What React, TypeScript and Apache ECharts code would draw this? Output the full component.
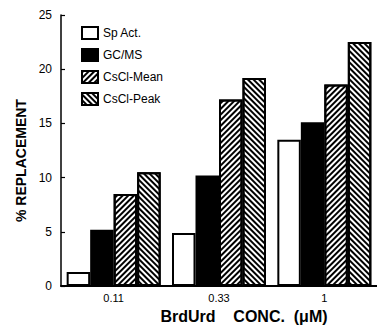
import React, { useEffect, useRef } from "react";
import * as echarts from "echarts";

const categories = ["0.11", "0.33", "1"];
const spAct = [1.3, 4.9, 13.5];
const gcms = [5.2, 10.2, 15.1];
const csclMean = [8.5, 17.2, 18.6];
const csclPeak = [10.5, 19.2, 22.5];
const seriesNames = ["Sp Act.", "GC/MS", "CsCl-Mean", "CsCl-Peak"];

const FONT = "Liberation Sans";

export default function App() {
  const ref = useRef<HTMLDivElement>(null);
  useEffect(() => {
    if (!ref.current) return;
    const chart = echarts.init(ref.current, null, { renderer: "svg" });
    const border = { borderColor: "#000", borderWidth: 2 };
    const hatch = (rot: number) => ({
      symbol: "rect",
      symbolSize: 1,
      color: "#000",
      dashArrayX: [1, 0],
      dashArrayY: [1.8, 1.5],
      rotation: rot,
    });
    chart.setOption({
      animation: false,
      backgroundColor: "#fff",
      textStyle: { fontFamily: FONT, color: "#000" },
      grid: { left: 61, right: -5, top: 15, bottom: 42, containLabel: false },
      legend: {
        orient: "vertical",
        left: 76,
        top: 21,
        itemWidth: 16,
        itemHeight: 12,
        itemGap: 8,
        icon: "rect",
        textStyle: { fontFamily: FONT, fontSize: 12, color: "#000" },
        data: seriesNames,
      },
      xAxis: {
        type: "category",
        data: categories,
        axisLine: { lineStyle: { color: "#000", width: 2 } },
        axisTick: { show: false },
        axisLabel: { color: "#000", fontSize: 11, margin: 6, fontFamily: FONT },
        name: "BrdUrd    CONC.  (\u03bcM)",
        nameLocation: "middle",
        nameGap: 21,
        nameTextStyle: {
          fontFamily: FONT,
          fontSize: 16,
          fontWeight: "bold",
          color: "#000",
          padding: [0, 0, 0, 50],
        },
      },
      yAxis: {
        type: "value",
        min: 0,
        max: 25,
        interval: 5,
        splitLine: { show: false },
        axisLine: { show: true, lineStyle: { color: "#000", width: 1.5 } },
        axisTick: { show: true, inside: true, length: 4, lineStyle: { color: "#000", width: 1.2 } },
        axisLabel: { color: "#000", fontSize: 12, margin: 9, fontFamily: FONT },
        name: "% REPLACEMENT",
        nameLocation: "middle",
        nameRotate: 90,
        nameGap: 31,
        nameTextStyle: {
          fontFamily: FONT,
          fontSize: 14,
          fontWeight: "bold",
          color: "#000",
          padding: [0, 20, 0, 0],
        },
      },
      series: [
        {
          name: seriesNames[0],
          type: "bar",
          data: spAct,
          barWidth: 23.5,
          barGap: "0%",
          itemStyle: { color: "#fff", ...border },
        },
        {
          name: seriesNames[1],
          type: "bar",
          data: gcms,
          barWidth: 23.5,
          barGap: "0%",
          itemStyle: { color: "#000", ...border },
        },
        {
          name: seriesNames[2],
          type: "bar",
          data: csclMean,
          barWidth: 23.5,
          barGap: "0%",
          itemStyle: { color: "#fff", ...border, decal: hatch(-Math.PI / 4) },
        },
        {
          name: seriesNames[3],
          type: "bar",
          data: csclPeak,
          barWidth: 23.5,
          barGap: "0%",
          itemStyle: { color: "#fff", ...border, decal: hatch(Math.PI / 4) },
        },
      ],
    });
    return () => chart.dispose();
  }, []);
  return <div ref={ref} style={{ width: 377, height: 329, position: "absolute", left: 0, top: 0 }} />;
}
